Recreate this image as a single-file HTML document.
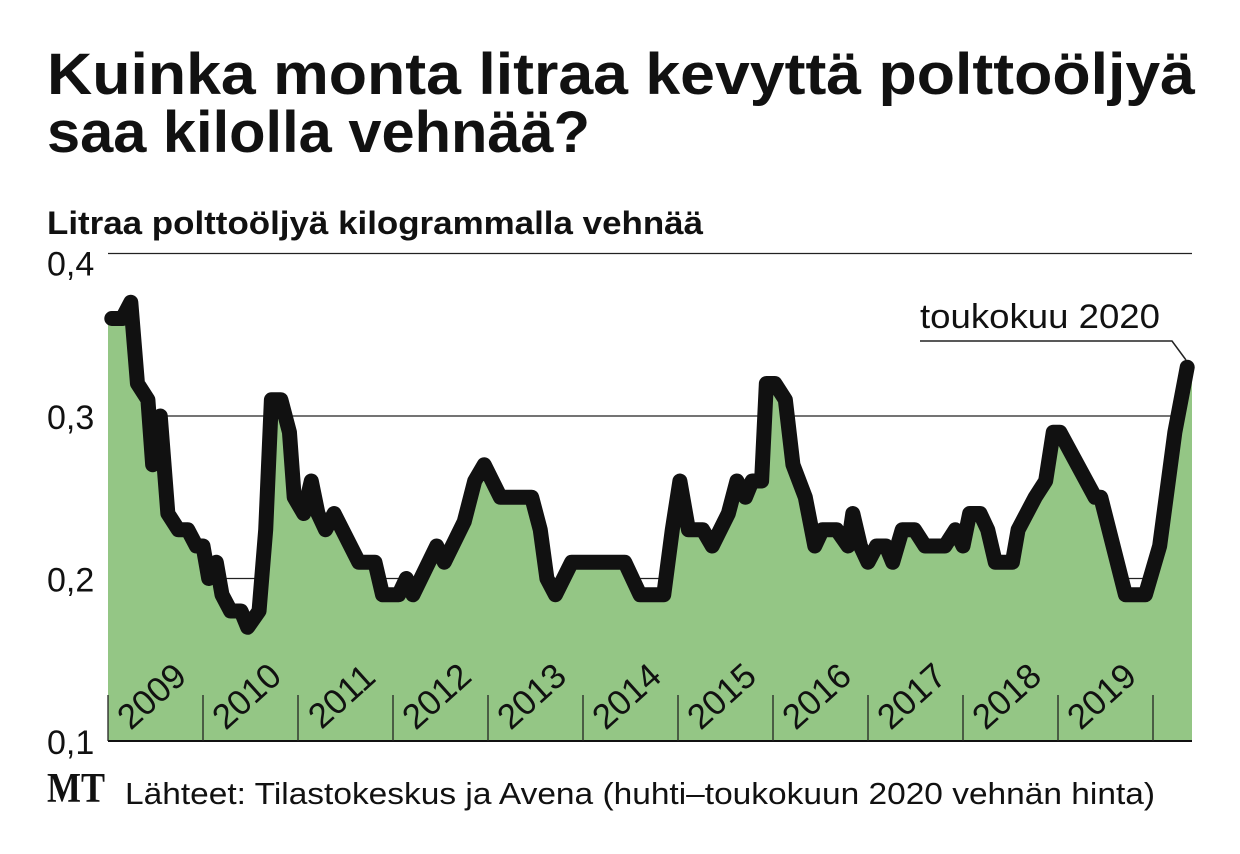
<!DOCTYPE html>
<html><head><meta charset="utf-8"><style>
html,body{margin:0;padding:0;background:#fff}
svg{display:block}
text{font-family:"Liberation Sans",sans-serif;fill:#111}
</style></head><body>
<svg id="chart" width="1240" height="854" viewBox="0 0 1240 854" xmlns="http://www.w3.org/2000/svg">
<text x="47" y="94" font-size="58" font-weight="bold" textLength="1148" lengthAdjust="spacingAndGlyphs">Kuinka monta litraa kevyttä polttoöljyä</text>
<text x="47" y="152" font-size="58" font-weight="bold" textLength="543" lengthAdjust="spacingAndGlyphs">saa kilolla vehnää?</text>
<text x="47" y="234" font-size="32" font-weight="bold" textLength="656" lengthAdjust="spacingAndGlyphs">Litraa polttoöljyä kilogrammalla vehnää</text>
<g id="grid"></g>
<g id="plot"></g>
<g id="yticks"></g>
<g id="xticks"></g>
<text x="920" y="328" font-size="34" textLength="240" lengthAdjust="spacingAndGlyphs">toukokuu 2020</text>
<polyline points="920,341 1172,341 1186,360" fill="none" stroke="#222" stroke-width="1.5"/>
<text x="47" y="802" font-size="42" font-weight="bold" style="font-family:'Liberation Serif',serif" textLength="58" lengthAdjust="spacingAndGlyphs">MT</text>
<text x="125" y="804" font-size="31" textLength="1030" lengthAdjust="spacingAndGlyphs">Lähteet: Tilastokeskus ja Avena (huhti–toukokuun 2020 vehnän hinta)</text>
</svg>
<script>
const dates=[0.04,0.15,0.24,0.31,0.42,0.47,0.55,0.63,0.74,0.84,0.93,1.0,1.06,1.14,1.2,1.29,1.4,1.47,1.59,1.66,1.72,1.82,1.91,1.96,2.06,2.14,2.21,2.29,2.38,2.64,2.81,2.89,3.06,3.14,3.21,3.46,3.54,3.75,3.86,3.96,4.13,4.46,4.55,4.62,4.71,4.88,5.44,5.6,5.85,5.94,6.02,6.11,6.26,6.36,6.53,6.62,6.71,6.78,6.88,6.93,7.02,7.13,7.21,7.34,7.44,7.52,7.67,7.79,7.84,7.92,8.0,8.09,8.19,8.26,8.36,8.49,8.6,8.81,8.92,9.0,9.07,9.18,9.26,9.34,9.52,9.58,9.76,9.87,9.95,10.02,10.39,10.45,10.71,10.92,11.07,11.23,11.36];
const values=[0.36,0.36,0.37,0.32,0.31,0.27,0.30,0.24,0.23,0.23,0.22,0.22,0.20,0.21,0.19,0.18,0.18,0.17,0.18,0.23,0.31,0.31,0.29,0.25,0.24,0.26,0.24,0.23,0.24,0.21,0.21,0.19,0.19,0.20,0.19,0.22,0.21,0.235,0.26,0.27,0.25,0.25,0.23,0.20,0.19,0.21,0.21,0.19,0.19,0.23,0.26,0.23,0.23,0.22,0.24,0.26,0.25,0.26,0.26,0.32,0.32,0.31,0.27,0.25,0.22,0.23,0.23,0.22,0.24,0.22,0.21,0.22,0.22,0.21,0.23,0.23,0.22,0.22,0.23,0.22,0.24,0.24,0.23,0.21,0.21,0.23,0.25,0.26,0.29,0.29,0.25,0.25,0.19,0.19,0.22,0.29,0.33];
const yTicks=[0.1,0.2,0.3,0.4];
const yTickLabels=["0,1","0,2","0,3","0,4"];
const years=["2009","2010","2011","2012","2013","2014","2015","2016","2017","2018","2019"];
const NS="http://www.w3.org/2000/svg";
const X0=108,X1=1192,yearW=95;
const xs=t=>X0+t*yearW;
const ys=v=>741-(v-0.1)*1625;
function mk(tag,attrs,parent){const e=document.createElementNS(NS,tag);for(const k in attrs)e.setAttribute(k,attrs[k]);parent.appendChild(e);return e;}
const grid=document.getElementById('grid'),plot=document.getElementById('plot'),yt=document.getElementById('yticks'),xt=document.getElementById('xticks');
let pts=[[X0,ys(0.1)],[X0,ys(values[0])]];
dates.forEach((d,i)=>pts.push([xs(d),ys(values[i])]));
pts.push([X1,ys(values[values.length-1])],[X1,ys(0.1)]);
const area=mk('polygon',{points:pts.map(p=>p.join(',')).join(' '),fill:'#94c685'},plot);


yTicks.forEach((v,i)=>{
  if(v>0.1){const l=mk('line',{x1:X0,x2:X1,y1:ys(v),y2:ys(v),stroke:'#222','stroke-width':1.3},grid);
  
  }
  const t=mk('text',{x:47,y:ys(v)+(i==3?22:13),'font-size':34},yt);
  t.textContent=yTickLabels[i];
  
  
});
const ln=mk('polyline',{points:dates.map((d,i)=>xs(d)+','+ys(values[i])).join(' '),fill:'none',stroke:'#111','stroke-width':15,'stroke-linejoin':'round','stroke-linecap':'round'},plot);


const base=mk('line',{x1:X0,x2:X1,y1:ys(0.1),y2:ys(0.1),stroke:'#111','stroke-width':2},xt);


for(let i=0;i<=years.length;i++){
  const x=X0+i*yearW;
  const tk=mk('line',{x1:x,x2:x,y1:695,y2:741,stroke:'#222','stroke-width':1.3},xt);
  
  
  if(i<years.length){
    const cx=x+yearW/2+4;
    const t=mk('text',{x:0,y:0,'font-size':35,'text-anchor':'middle',transform:`translate(${cx},${705}) rotate(-42)`},xt);
    t.textContent=years[i];
    
    
  }
}
</script>
</body></html>
